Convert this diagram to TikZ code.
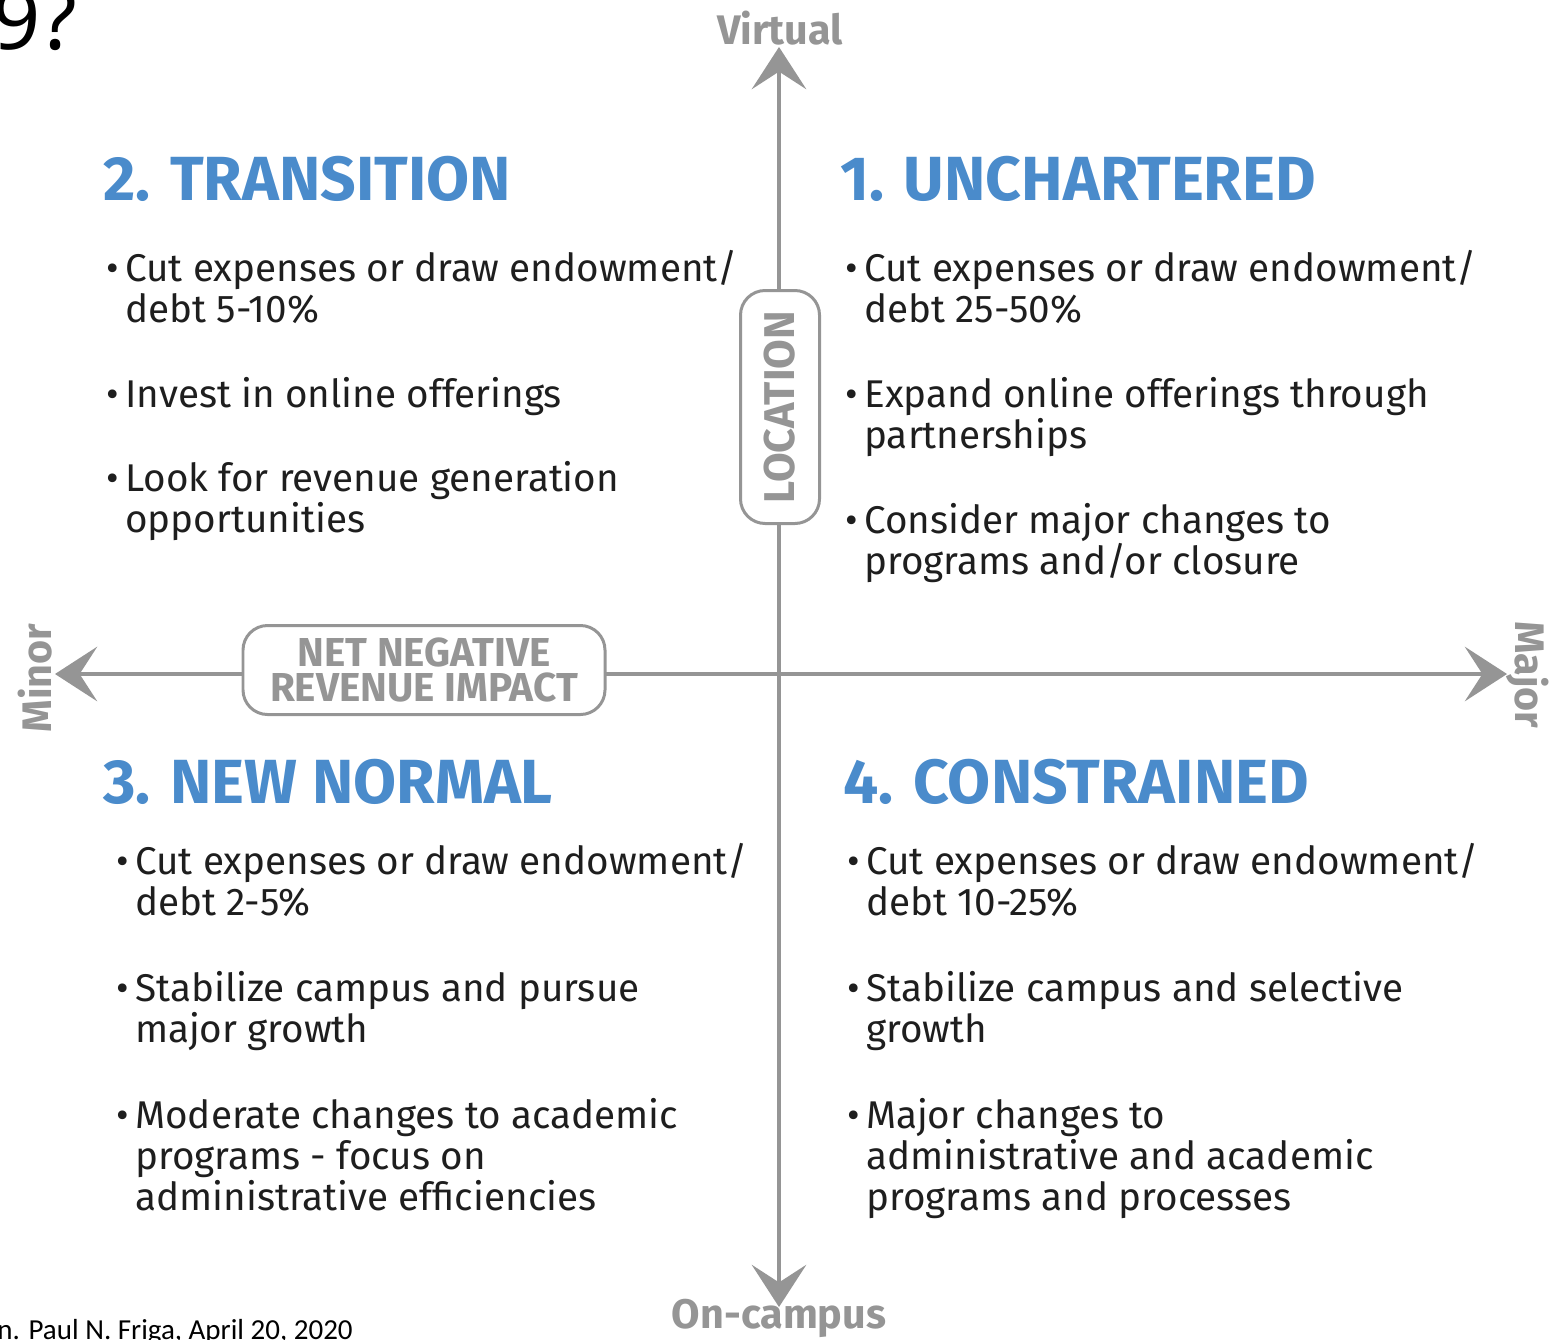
\documentclass[tikz,border=0pt]{standalone}
\usepackage{fontspec}
\setmainfont{Fira Sans}
\newfontfamily\slideFont{Carlito}
\newfontfamily\headFont{Noto Sans}
\usetikzlibrary{arrows.meta,positioning}
\definecolor{myBlue}{HTML}{4A8BCB}
\definecolor{myGray}{HTML}{959595}
\definecolor{myInk}{HTML}{1E1E1E}
\tikzset{
myAxis/.style={
	draw=myGray, line width=2.3pt,
	-{Stealth[length=24pt,width=31pt,inset=10pt]}
}
, myTitle/.style={
	anchor=base west, inner sep=0pt, text=myBlue,
	font=\fontsize{35.5}{38}\selectfont\bfseries
}
% multi-line items sit on the baseline of their last line
, myItem/.style={
	anchor=base west, inner sep=0pt, align=left, text=myInk,
	font=\fontsize{22}{23.3}\selectfont
}
, myEnd/.style={
	inner sep=0pt, text=myGray,
	font=\fontsize{23.5}{25}\selectfont\bfseries
}
, myBox/.style={
	draw=myGray, line width=1.7pt, fill=white, rounded corners=14pt,
	text=myGray, align=center, inner sep=0pt
}
}
\newcommand{\myPoint}{\llap{\textbullet\,}}

\begin{document}
\begin{tikzpicture}[x=0.02cm,y=-0.02cm]
	\useasboundingbox (0,0) rectangle (1550,1339);
	% slide leftovers
	\node[anchor=base west, inner sep=0pt, font=\headFont\fontsize{48}{50}\selectfont] (slideTitle) at (-8,49) {9?};
	\node[anchor=base west, inner sep=0pt, font=\slideFont\fontsize{16.5}{18}\selectfont] (slideNote) at (-3,1339) {n. Paul N. Friga, April 20, 2020};

	% axis ends
	\coordinate (Centre) at (779,674);
	\coordinate (TopEnd) at (779,47);
	\coordinate (BottomEnd) at (779,1307);
	\coordinate (LeftEnd) at (55,674);
	\coordinate (RightEnd) at (1507,674);
	\draw[myAxis] (Centre) -- (TopEnd);
	\draw[myAxis] (Centre) -- (BottomEnd);
	\draw[myAxis] (Centre) -- (LeftEnd);
	\draw[myAxis] (Centre) -- (RightEnd);

	\node[myEnd] (Virtual) at (780,28) {Virtual};
	\node[myEnd] (OnCampus) at (779,1318) {On-campus};
	\node[myEnd, rotate=90] (Minor) at (35,678) {Minor};
	\node[myEnd, rotate=-90] (Major) at (1528,675) {Major};

	% axis names
	\node[myBox, minimum width=362*0.02cm, minimum height=89*0.02cm,
		font=\fontsize{23}{19.5}\selectfont\bfseries] (Revenue) at (424,670) {NET NEGATIVE\\REVENUE IMPACT};
	\node[myBox, rotate=90, minimum width=233*0.02cm, minimum height=79*0.02cm,
		font=\fontsize{24.5}{26}\selectfont\bfseries] (Location) at (780,407) {LOCATION};

	% quadrant 2
	\node[myTitle] (TitleTwo) at (103,200) {2. TRANSITION};
	\node[myItem] (TwoA) at (125,322) {\myPoint Cut expenses or draw endowment/\\debt 5-10\%};
	\node[myItem] (TwoB) at (125,407) {\myPoint Invest in online offerings};
	\node[myItem] (TwoC) at (125,532) {\myPoint Look for revenue generation\\opportunities};

	% quadrant 1
	\node[myTitle] (TitleOne) at (840,200) {1. UNCHARTERED};
	\node[myItem] (OneA) at (864,322) {\myPoint Cut expenses or draw endowment/\\debt 25-50\%};
	\node[myItem] (OneB) at (864,448) {\myPoint Expand online offerings through\\partnerships};
	\node[myItem] (OneC) at (864,574) {\myPoint Consider major changes to\\programs and/or closure};

	% quadrant 3
	\node[myTitle] (TitleThree) at (103,803) {3. NEW NORMAL};
	\node[myItem] (ThreeA) at (135,915) {\myPoint Cut expenses or draw endowment/\\debt 2-5\%};
	\node[myItem] (ThreeB) at (135,1042) {\myPoint Stabilize campus and pursue\\major growth};
	\node[myItem] (ThreeC) at (135,1210) {\myPoint Moderate changes to academic\\programs - focus on\\administrative efficiencies};

	% quadrant 4
	\node[myTitle] (TitleFour) at (843,803) {4. CONSTRAINED};
	\node[myItem] (FourA) at (866,915) {\myPoint Cut expenses or draw endowment/\\debt 10-25\%};
	\node[myItem] (FourB) at (866,1042) {\myPoint Stabilize campus and selective\\growth};
	\node[myItem] (FourC) at (866,1210) {\myPoint Major changes to\\administrative and academic\\programs and processes};
\end{tikzpicture}
\end{document}
